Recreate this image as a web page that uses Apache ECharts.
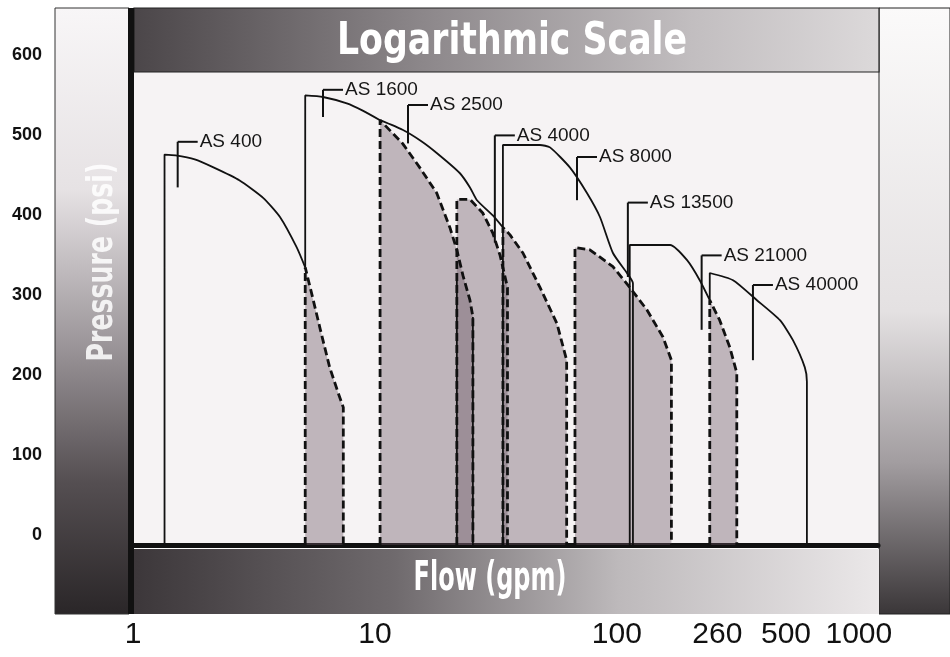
<!DOCTYPE html>
<html>
<head>
<meta charset="utf-8">
<title>Logarithmic Scale</title>
<script src="https://cdn.jsdelivr.net/npm/echarts@6.0.0/dist/echarts.min.js"></script>
<style>
  html, body { margin: 0; padding: 0; background: #fff; }
  #chart { width: 950px; height: 657px; }
</style>
</head>
<body>
<div id="chart"></div>
<script>
// pump operating ranges, flow (gpm, log scale) vs pressure (psi)
var pumpNames = ['AS 400', 'AS 1600', 'AS 2500', 'AS 4000', 'AS 8000', 'AS 13500', 'AS 21000', 'AS 40000'];

// solid outline = part of a range not covered by a neighbour
var as400Solid = [[1.35, 0], [1.35, 488], [1.5, 487], [1.8, 482], [2.15, 472], [2.75, 456], [3.45, 434], [4.05, 410], [4.75, 372], [5.15, 347]];
var as1600Solid = [[5.15, 347], [5.15, 562], [6.1, 560], [7.65, 552], [8.9, 543], [10.5, 531]];
var as1600Edge = [[25.4, 285], [25.4, 0]];
var as2500Solid = [[10.5, 531], [13, 519], [15.5, 505], [18, 490], [22.4, 465], [24.7, 447], [26.4, 431], [30.7, 412], [33.8, 397]];
var as4000Edge = [[21.8, 0], [21.8, 330]];
var as8000Solid = [[33.8, 0], [33.8, 500], [48.1, 500], [52.9, 497], [63.9, 472], [75.2, 440], [85.1, 410], [96.3, 365], [110, 340], [116.5, 327], [116.5, 0]];
var as21000Solid = [[113, 0], [113, 375], [166, 375], [195, 356], [220, 331], [242, 306]];
var as40000Solid = [[242, 306], [242, 340], [302, 331], [379, 306], [472, 281], [534, 256], [598, 222], [610, 204], [610, 0]];

// dashed = overlapping part of a range (shaded)
var as400Dashed = [[5.15, 0], [5.15, 347], [5.5, 312], [5.95, 269], [6.5, 222], [7.05, 190], [7.4, 172], [7.4, 0]];
var as1600Dashed = [[10.5, 0], [10.5, 531], [13, 502], [15.3, 472], [18, 440], [20.4, 397], [21.8, 369], [23.1, 337], [24.7, 306], [25.4, 285], [25.4, 0]];
var as2500Dashed = [[33.8, 0], [33.8, 397], [36.1, 388], [40.9, 365], [48.1, 322], [56.5, 277], [62, 231], [62, 0]];
var as4000Dashed = [[21.8, 0], [21.8, 432], [24.7, 432], [27.9, 415], [30.7, 390], [32.9, 362], [35.3, 322], [35.3, 0]];
var as13500Dashed = [[67.1, 0], [67.1, 372], [77.3, 369], [96.3, 348], [113, 322], [133, 294], [155, 260], [168, 231], [168, 0]];
var as21000Dashed = [[242, 0], [242, 306], [266, 281], [293, 247], [313, 215], [313, 0]];

// label leaders: [flow, psi at top, psi at bottom]
var labelLeaders = [[1.53, 504, 447], [6.1, 569, 535], [13.7, 550, 502], [31.3, 512, 378], [68.4, 485, 431], [111, 428, 335], [224, 362, 269], [365, 325, 231]];

var flowTicks = [1, 10, 100, 260, 500, 1000];

var solidLines = [as400Solid, as1600Solid, as1600Edge, as2500Solid, as4000Edge, as8000Solid, as21000Solid, as40000Solid];
var dashedLines = [as400Dashed, as1600Dashed, as2500Dashed, as4000Dashed, as13500Dashed, as21000Dashed];

var heavy = '"DejaVu Sans", "Liberation Sans", sans-serif';

var chart = echarts.init(document.getElementById('chart'));

var series = [];
dashedLines.forEach(function (d) {
    series.push({
        type: 'line', data: d, symbol: 'none', silent: true, z: 1,
        lineStyle: { width: 0 },
        areaStyle: { color: 'rgba(105,84,97,0.55)', origin: 'start' }
    });
});
dashedLines.forEach(function (d) {
    series.push({
        type: 'line', data: d, symbol: 'none', silent: true, z: 4,
        lineStyle: { color: '#111', width: 2.8, type: [8, 4] }
    });
});
solidLines.forEach(function (d) {
    series.push({
        type: 'line', data: d, symbol: 'none', silent: true, z: 5, smooth: 0.2,
        lineStyle: { color: '#111', width: 1.8 }
    });
});
series.push({
    type: 'custom',
    data: labelLeaders,
    z: 6,
    silent: true,
    renderItem: function (params, api) {
        var top = api.coord([api.value(0), api.value(1)]);
        var bot = api.coord([api.value(0), api.value(2)]);
        return {
            type: 'group',
            children: [
                { type: 'line', shape: { x1: top[0], y1: top[1], x2: bot[0], y2: bot[1] }, style: { stroke: '#111', lineWidth: 2 } },
                { type: 'line', shape: { x1: top[0], y1: top[1], x2: top[0] + 20, y2: top[1] }, style: { stroke: '#111', lineWidth: 2 } },
                {
                    type: 'text', x: top[0] + 22, y: top[1],
                    style: { text: pumpNames[params.dataIndex], fill: '#161616', font: '19px "Liberation Sans", sans-serif', verticalAlign: 'middle', align: 'left' }
                }
            ]
        };
    }
});

var option = {
    backgroundColor: '#ffffff',
    animation: false,
    grid: { left: 133, right: 72, top: 65, bottom: 112 },
    xAxis: {
        type: 'log',
        min: 1,
        max: 1200,
        axisLine: { show: true, onZero: false, lineStyle: { color: '#111', width: 5 } },
        axisTick: { show: false },
        splitLine: { show: false },
        axisLabel: {
            customValues: flowTicks,
            formatter: function (v) { return String(v); },
            margin: 75,
            color: '#111',
            fontSize: 30,
            fontFamily: '"Liberation Sans", sans-serif'
        }
    },
    yAxis: {
        type: 'value',
        min: 0,
        max: 600,
        interval: 100,
        axisLine: { show: false },
        axisTick: { show: false },
        splitLine: { show: false },
        axisLabel: {
            margin: 91,
            align: 'right',
            verticalAlign: 'bottom',
            lineHeight: 20,
            color: '#111',
            fontSize: 18,
            fontWeight: 'bold',
            fontFamily: '"Liberation Sans", sans-serif'
        }
    },
    graphic: [
        // plot background
        { type: 'rect', z: -10, shape: { x: 134, y: 72, width: 745, height: 474 }, style: { fill: '#f6f3f4' } },
        // left band
        {
            type: 'rect', z: -10, shape: { x: 55, y: 8, width: 74, height: 606 },
            style: {
                fill: new echarts.graphic.LinearGradient(0, 0, 0, 1, [
                    { offset: 0, color: '#f8f6f7' }, { offset: 0.3, color: '#e6e2e4' },
                    { offset: 0.55, color: '#9d979b' }, { offset: 0.78, color: '#554f52' }, { offset: 1, color: '#2a2628' }
                ]),
                stroke: '#333', lineWidth: 1
            }
        },
        // right band
        {
            type: 'rect', z: -10, shape: { x: 879, y: 8, width: 71, height: 606 },
            style: {
                fill: new echarts.graphic.LinearGradient(0, 0, 0, 1, [
                    { offset: 0, color: '#fbfafa' }, { offset: 0.5, color: '#e4e1e2' },
                    { offset: 0.75, color: '#a29da0' }, { offset: 1, color: '#3a3638' }
                ]),
                stroke: '#222', lineWidth: 1
            }
        },
        // top band
        {
            type: 'rect', z: 10, shape: { x: 134, y: 8, width: 745, height: 64 },
            style: {
                fill: new echarts.graphic.LinearGradient(0, 0, 1, 0, [
                    { offset: 0, color: '#4b4649' }, { offset: 0.4, color: '#8e898c' },
                    { offset: 0.75, color: '#c2bec0' }, { offset: 1, color: '#dcd9da' }
                ]),
                stroke: '#222', lineWidth: 1.2
            }
        },
        {
            type: 'text', z: 11, x: 512, y: 43, scaleX: 0.79,
            style: { text: 'Logarithmic Scale', fill: '#ffffff', font: 'bold 44px ' + heavy, align: 'center', verticalAlign: 'middle' }
        },
        // bottom band
        {
            type: 'rect', z: 10, shape: { x: 134, y: 549, width: 745, height: 65 },
            style: {
                fill: new echarts.graphic.LinearGradient(0, 0, 1, 0, [
                    { offset: 0, color: '#3c373a' }, { offset: 0.35, color: '#6f6a6d' },
                    { offset: 0.65, color: '#bdb9bb' }, { offset: 1, color: '#ebe8e9' }
                ])
            }
        },
        {
            type: 'text', z: 11, x: 490, y: 580, scaleX: 0.6,
            style: { text: 'Flow (gpm)', fill: '#ffffff', font: 'bold 40px ' + heavy, align: 'center', verticalAlign: 'middle' }
        },
        // y name in left band
        {
            type: 'text', z: 11, x: 103, y: 262, rotation: Math.PI / 2, scaleX: 0.7,
            style: { text: 'Pressure (psi)', fill: '#ffffff', font: 'bold 36px ' + heavy, align: 'center', verticalAlign: 'middle', opacity: 0.85 }
        },
        // thick left rule
        { type: 'rect', z: 12, shape: { x: 128, y: 8, width: 6, height: 606 }, style: { fill: '#111' } }
    ],
    series: series
};

chart.setOption(option);
</script>
</body>
</html>
